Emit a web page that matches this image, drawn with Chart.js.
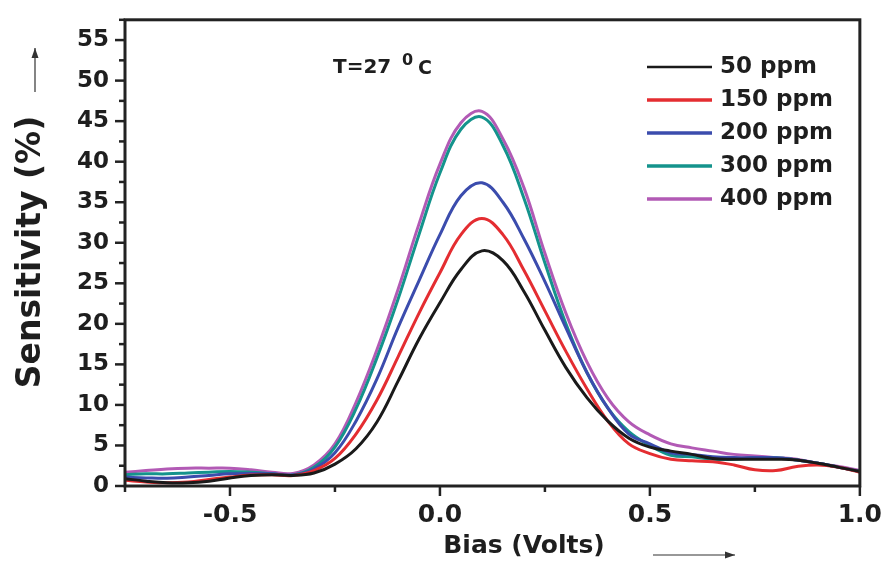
<!DOCTYPE html>
<html>
<head>
<meta charset="utf-8">
<script src="https://cdn.jsdelivr.net/npm/chart.js@4.4.0/dist/chart.umd.min.js"></script>
<style>body{margin:0;background:#fff}</style>
</head>
<body>
<canvas id="chart" width="886" height="567"></canvas>
<script>
// bias voltage (x) and sensitivity (%) for each concentration
const bias = [-0.75,-0.70,-0.65,-0.60,-0.55,-0.50,-0.45,-0.40,-0.35,-0.30,-0.25,-0.20,-0.15,-0.10,-0.05,0.00,0.05,0.10,0.15,0.20,0.25,0.30,0.35,0.40,0.45,0.50,0.55,0.60,0.65,0.70,0.75,0.80,0.85,0.90,0.95,1.00];
const ppm50  = [0.9,0.6,0.4,0.4,0.6,1.0,1.3,1.4,1.3,1.6,2.7,4.6,7.9,12.9,18.1,22.6,26.7,29.0,27.8,24.0,19.2,14.6,10.9,8.0,5.9,4.8,4.3,3.9,3.4,3.3,3.3,3.3,3.2,2.8,2.3,1.8];
const ppm150 = [0.7,0.5,0.4,0.5,0.8,1.1,1.35,1.4,1.3,1.9,3.4,6.4,10.6,15.9,21.3,26.3,31.0,33.0,31.0,26.6,21.6,16.6,12.0,8.0,5.2,4.0,3.3,3.1,3.0,2.6,2.0,1.9,2.4,2.6,2.3,1.7];
const ppm200 = [1.1,1.0,0.95,1.1,1.3,1.5,1.55,1.5,1.35,2.1,4.1,8.0,13.2,19.5,25.3,31.0,35.8,37.4,35.0,30.5,25.2,19.5,14.0,9.6,6.4,5.2,4.1,3.9,3.6,3.5,3.5,3.5,3.2,2.8,2.3,1.8];
const ppm300 = [1.4,1.5,1.5,1.6,1.7,1.8,1.7,1.5,1.35,2.3,4.8,9.5,15.8,23.0,31.0,38.6,44.0,45.5,42.0,35.5,27.5,20.0,14.0,9.6,6.7,5.0,3.8,3.6,3.3,3.3,3.5,3.5,3.2,2.8,2.3,1.8];
const ppm400 = [1.7,1.9,2.1,2.2,2.2,2.2,2.0,1.7,1.55,2.6,5.2,10.3,16.8,24.2,32.3,39.7,44.8,46.2,42.8,36.8,28.7,21.3,15.3,10.8,7.9,6.3,5.2,4.7,4.3,3.9,3.7,3.5,3.3,2.8,2.4,1.9];

const seriesLabels = ['50 ppm','150 ppm','200 ppm','300 ppm','400 ppm'];
const seriesValues = [ppm50, ppm150, ppm200, ppm300, ppm400];
const seriesColors = ['#1a1a1a','#e42d31','#3b4cad','#14938c','#b25ab5'];

const FONT = '"DejaVu Sans", sans-serif';
const TXT = '#1e1e1e';

function isMultiple(v, step) {
  return Math.abs(v / step - Math.round(v / step)) < 1e-6;
}

function arrow(ctx, x1, y1, x2, y2) {
  ctx.beginPath(); ctx.moveTo(x1, y1); ctx.lineTo(x2, y2); ctx.stroke();
  const ang = Math.atan2(y2 - y1, x2 - x1);
  ctx.beginPath();
  ctx.moveTo(x2, y2);
  ctx.lineTo(x2 - 10 * Math.cos(ang) + 3.5 * Math.sin(ang), y2 - 10 * Math.sin(ang) - 3.5 * Math.cos(ang));
  ctx.lineTo(x2 - 10 * Math.cos(ang) - 3.5 * Math.sin(ang), y2 - 10 * Math.sin(ang) + 3.5 * Math.cos(ang));
  ctx.closePath(); ctx.fill();
}

const decor = {
  id: 'decor',
  beforeDraw(chart) {
    const ctx = chart.ctx;
    ctx.save();
    ctx.fillStyle = '#fff';
    ctx.fillRect(0, 0, chart.width, chart.height);
    ctx.restore();
  },
  afterDraw(chart) {
    const ctx = chart.ctx, a = chart.chartArea, sx = chart.scales.x, sy = chart.scales.y;
    ctx.save();
    ctx.strokeStyle = '#222';
    ctx.lineWidth = 3;
    ctx.strokeRect(a.left, a.top, a.right - a.left, a.bottom - a.top);

    // tick marks, long on labelled values
    ctx.lineWidth = 2.5;
    sy.ticks.forEach(t => {
      const py = sy.getPixelForValue(t.value);
      const len = isMultiple(t.value, 5) ? 10 : 6;
      ctx.beginPath(); ctx.moveTo(a.left - len, py); ctx.lineTo(a.left, py); ctx.stroke();
    });
    sx.ticks.forEach(t => {
      const px = sx.getPixelForValue(t.value);
      const len = isMultiple(t.value, 0.5) ? 10 : 6;
      ctx.beginPath(); ctx.moveTo(px, a.bottom); ctx.lineTo(px, a.bottom + len); ctx.stroke();
    });

    // legend
    ctx.font = 'bold 23px ' + FONT;
    ctx.textBaseline = 'middle';
    ctx.textAlign = 'left';
    chart.data.datasets.forEach((ds, i) => {
      const yy = 67 + i * 33;
      ctx.strokeStyle = ds.borderColor;
      ctx.lineWidth = i === 0 ? 2.5 : 3.5;
      ctx.beginPath(); ctx.moveTo(647, yy); ctx.lineTo(712, yy); ctx.stroke();
      ctx.fillStyle = TXT;
      ctx.fillText(ds.label, 720, yy);
    });

    // temperature note
    ctx.fillStyle = TXT;
    ctx.textBaseline = 'alphabetic';
    ctx.font = 'bold 20px ' + FONT;
    ctx.fillText('T=27', 333, 73);
    ctx.font = 'bold 16px ' + FONT;
    ctx.fillText('0', 402, 65);
    ctx.font = 'bold 19px ' + FONT;
    ctx.fillText('C', 418, 74);

    // axis titles
    ctx.font = 'bold 25px ' + FONT;
    ctx.textAlign = 'center';
    ctx.fillText('Bias (Volts)', 524, 553);
    ctx.save();
    ctx.translate(31, 252);
    ctx.rotate(-Math.PI / 2);
    ctx.font = 'bold 33px ' + FONT;
    ctx.textBaseline = 'middle';
    ctx.fillText('Sensitivity (%)', 0, 0);
    ctx.restore();

    // direction arrows
    ctx.strokeStyle = '#333';
    ctx.fillStyle = '#333';
    ctx.lineWidth = 1.2;
    arrow(ctx, 653, 555, 735, 555);
    arrow(ctx, 35, 92, 35, 48);
    ctx.restore();
  }
};

new Chart(document.getElementById('chart'), {
  type: 'line',
  data: {
    datasets: seriesLabels.map((label, i) => ({
      label: label,
      data: bias.map((b, j) => ({x: b, y: seriesValues[i][j]})),
      borderColor: seriesColors[i],
      borderWidth: 3,
      pointRadius: 0,
      fill: false,
      tension: 0.4
    }))
  },
  options: {
    responsive: false,
    animation: false,
    layout: {padding: {top: 14, right: 26, left: 0, bottom: 0}},
    plugins: {legend: {display: false}, tooltip: {enabled: false}},
    scales: {
      x: {
        type: 'linear',
        min: -0.75, max: 1.0,
        afterFit: s => { s.height = 81; },
        grid: {display: true, drawOnChartArea: false, drawTicks: true, tickLength: 10, color: 'rgba(0,0,0,0)'},
        border: {display: false},
        ticks: {
          stepSize: 0.25, autoSkip: false, maxRotation: 0, padding: 4,
          color: TXT, font: {family: FONT, size: 25, weight: 'bold'},
          callback: v => isMultiple(v, 0.5) ? v.toFixed(1) : ''
        }
      },
      y: {
        min: 0, max: 57.5,
        afterFit: s => { s.width = 125; },
        grid: {display: true, drawOnChartArea: false, drawTicks: true, tickLength: 10, color: 'rgba(0,0,0,0)'},
        border: {display: false},
        ticks: {
          stepSize: 2.5, autoSkip: false, padding: 6,
          color: TXT, font: {family: FONT, size: 23, weight: 'bold'},
          callback: v => isMultiple(v, 5) ? String(v) : ''
        }
      }
    }
  },
  plugins: [decor]
});
</script>
</body>
</html>
